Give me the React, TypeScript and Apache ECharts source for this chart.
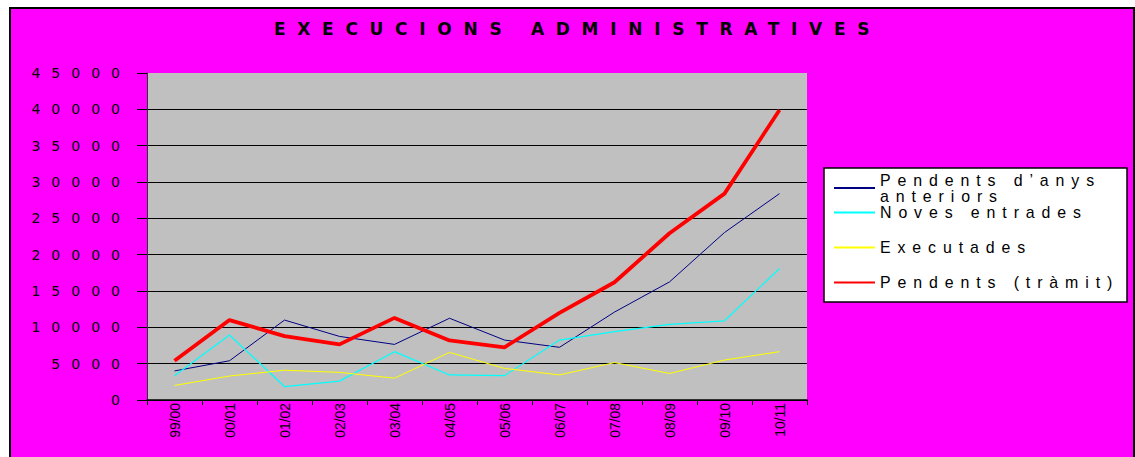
import React, { useEffect, useRef } from "react";
import * as echarts from "echarts";

const years = ["99/00", "00/01", "01/02", "02/03", "03/04", "04/05", "05/06", "06/07", "07/08", "08/09", "09/10", "10/11"];
const pendentsAnteriors = [4000, 5400, 11000, 8750, 7650, 11250, 8250, 7250, 12100, 16250, 23050, 28400];
const novesEntrades = [3350, 8950, 1850, 2600, 6650, 3450, 3350, 8250, 9400, 10400, 10900, 18100];
const executades = [2000, 3300, 4100, 3800, 3000, 6550, 4350, 3450, 5150, 3650, 5500, 6650];
const pendentsTramit = [5400, 11000, 8800, 7650, 11300, 8200, 7250, 12000, 16200, 22950, 28400, 39900];

const seriesNames = ["Pendents d\u2019anys anteriors", "Noves entrades", "Executades", "Pendents (tr\u00e0mit)"];
const seriesValues = [pendentsAnteriors, novesEntrades, executades, pendentsTramit];
const seriesColors = ["#000080", "#00ffff", "#ffff00", "#ff0000"];
const seriesWidths = [1, 1.2, 1, 3.8];
const titleText = "EXECUCIONS ADMINISTRATIVES";
const yMin = 0;
const yMax = 45000;
const yInterval = 5000;

const css = `
.ec-wrap text[style*="17px"] { letter-spacing: 11.7px; }
.ec-wrap text[style*="14px"] { letter-spacing: 11px; }
.ec-wrap text[style*="15.9px"] { letter-spacing: 6.9px; }
`;

export default function App() {
  const ref = useRef<HTMLDivElement>(null);
  useEffect(() => {
    const chart = echarts.init(ref.current as HTMLDivElement, null, { renderer: "svg" });
    chart.setOption({
      animation: false,
      backgroundColor: "transparent",
      title: {
        text: titleText,
        left: 274,
        top: 20,
        padding: 0,
        textStyle: { fontFamily: "DejaVu Sans", fontWeight: "bold", fontSize: 17, color: "#000" },
      },
      grid: {
        left: 147,
        right: 328,
        top: 73,
        bottom: 57,
        show: true,
        backgroundColor: "#c0c0c0",
        borderWidth: 0,
        containLabel: false,
        outerBoundsMode: "none",
      },
      legend: {
        orient: "vertical",
        left: 824,
        top: 168,
        padding: [4, 7, 11.5, 9],
        itemGap: 0.5,
        itemWidth: 41,
        itemHeight: 14,
        backgroundColor: "#fff",
        borderColor: "#000",
        borderWidth: 1.5,
        itemStyle: { opacity: 0 },
        selectedMode: false,
        textStyle: { fontFamily: "Liberation Sans", fontSize: 15.9, lineHeight: 16, color: "#000", width: 240 },
        formatter: (name: string) => (name === seriesNames[0] ? "Pendents d\u2019anys\nanteriors" : name),
        data: [
          { name: seriesNames[0] },
          { name: seriesNames[1] },
          { name: seriesNames[2], textStyle: { lineHeight: 53 } },
          { name: seriesNames[3] },
        ],
      },
      xAxis: {
        type: "category",
        data: years,
        boundaryGap: true,
        axisLine: { show: true, lineStyle: { color: "#000", width: 1.5 } },
        axisTick: { show: true, length: 5, interval: 0, lineStyle: { color: "#000" } },
        axisLabel: {
          rotate: 90,
          interval: 0,
          fontFamily: "Liberation Sans",
          fontSize: 13.9,
          color: "#000",
          margin: 3,
        },
        splitLine: { show: false },
      },
      yAxis: {
        type: "value",
        min: yMin,
        max: yMax,
        interval: yInterval,
        axisLine: { show: true, lineStyle: { color: "#333", width: 1 } },
        axisTick: { show: true, length: 10, lineStyle: { color: "#000" } },
        axisLabel: {
          fontFamily: "DejaVu Sans",
          fontSize: 14,
          color: "#000",
          margin: 16,
          formatter: (v: number) => String(v),
        },
        splitLine: { show: true, showMaxLine: false, lineStyle: { color: "#000", width: 1 } },
      },
      series: seriesNames.map((name, i) => ({
        name,
        type: "line",
        data: seriesValues[i],
        symbol: "none",
        lineStyle: { color: seriesColors[i], width: seriesWidths[i] },
        itemStyle: { color: seriesColors[i] },
        z: 2 + i,
      })),
    });
    return () => chart.dispose();
  }, []);
  return (
    <div style={{ position: "absolute", left: 0, top: 0, width: 1135, height: 457, background: "#fff", overflow: "hidden" }}>
      <style>{css}</style>
      <div
        style={{
          position: "absolute",
          left: 9,
          top: 7,
          width: 1126,
          height: 470,
          boxSizing: "border-box",
          background: "#ff00ff",
          border: "2px solid #000",
        }}
      />
      <div ref={ref} className="ec-wrap" style={{ position: "absolute", left: 0, top: 0, width: 1135, height: 457 }} />
    </div>
  );
}
